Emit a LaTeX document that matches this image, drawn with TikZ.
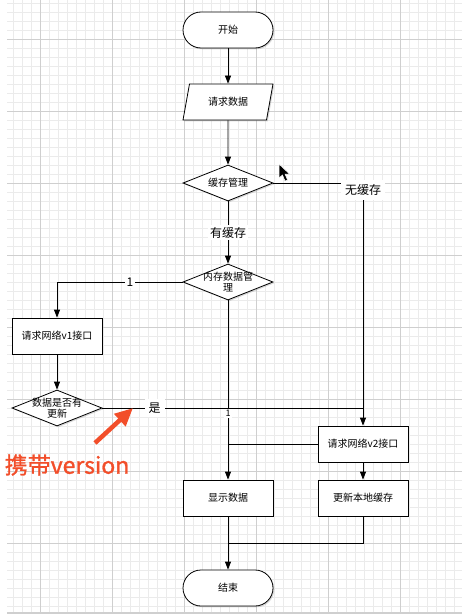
\documentclass[tikz,border=0pt]{standalone}
\usepackage{fontspec}
\setmainfont{Noto Sans CJK SC}
\newfontfamily\annotfont[FakeBold=1.2]{Noto Sans CJK SC}
\usetikzlibrary{shapes.geometric,arrows.meta,shadows,calc}
\definecolor{gridminor}{HTML}{EBEBEB}
\definecolor{gridmajor}{HTML}{CFCFCF}
\definecolor{annot}{HTML}{F24E2A}
\begin{document}
\begin{tikzpicture}[x=1pt,y=-1pt,
  minorline/.style={draw=gridminor, line width=0.6pt},
  majorline/.style={draw=gridmajor, line width=0.8pt},
  base/.style={draw=black, line width=0.8pt, fill=white,
    font=\fontsize{10}{11.5}\selectfont,
    drop shadow={shadow xshift=1.3pt, shadow yshift=-1.3pt, opacity=0.3}},
  terminal/.style={base, rectangle, rounded corners=18pt, minimum width=90pt, minimum height=36pt, inner sep=0pt},
  iobox/.style={base, trapezium, trapezium left angle=70, trapezium right angle=110,
    trapezium stretches=true, minimum width=90pt, minimum height=36pt, inner sep=0pt},
  process/.style={base, rectangle, minimum width=90pt, minimum height=36pt, inner sep=0pt},
  decision/.style={base, diamond, minimum width=90pt, minimum height=36pt,
    inner xsep=-14pt, inner ysep=-4pt, align=center},
  conn/.style={draw=black, line width=0.8pt},
  arr/.style={conn, -{Triangle[width=6pt,length=8pt]}},
  lbl/.style={fill=white, inner sep=2pt, font=\fontsize{12}{12}\selectfont},
  smalllbl/.style={fill=white, inner sep=1.5pt, font=\fontsize{9}{9}\selectfont}
]
\useasboundingbox (0,0) rectangle (462,615);
% grid
\foreach \x in {13,22,...,461} \draw[minorline] (\x,0) -- (\x,613);
\foreach \y in {3,12,...,612} \draw[minorline] (7,\y) -- (462,\y);
\foreach \x in {40,112,...,400} \draw[majorline] (\x,0) -- (\x,613);
\foreach \y in {39,111,...,543} \draw[majorline] (7,\y) -- (462,\y);
\draw[draw=gridmajor, line width=1.6pt] (7,613) -- (462,613);

% nodes
\node[terminal] (start) at (228,30) {开始};
\node[iobox] (req) at (228,102) {请求数据};
\node[decision] (cache) at (228,183) {缓存管理};
\node[decision] (mem) at (228,282) {内存数据管\\理};
\node[process] (v1) at (57,336) {请求网络v1接口};
\node[decision] (upd) at (57,408) {数据是否有\\更新};
\node[process] (v2) at (363,444) {请求网络v2接口};
\node[process] (show) at (228,498) {显示数据};
\node[process] (local) at (363,498) {更新本地缓存};
\node[terminal] (stop) at (228,588) {结束};

% connectors
\draw[arr] (start) -- (req);
\draw[arr] (req) -- (cache);
\draw[arr] (cache) -- node[lbl] {有缓存} (mem);
\draw[arr] (cache.east) -| node[lbl, pos=0.5, yshift=-7pt, inner sep=4pt] {无缓存} (v2.north);
\draw[arr] (mem.west) -| node[lbl, pos=0.21] {1} (v1.north);
\draw[arr] (v1) -- (upd);
\coordinate (join) at (upd.east -| v2.north);
\draw[conn] (upd.east) -- node[lbl, pos=0.2, inner sep=4pt] {是} (join);
\draw[arr] (mem.south) -- node[smalllbl, pos=0.63] {1} (show.north);
\draw[conn] (v2.west) -- (v2.west -| show.north);
\draw[arr] (v2) -- (local);
\draw[arr] (show) -- (stop);
\draw[conn] (local.south) |- ($(show.south)!0.5!(stop.north)$);

% annotation
\node[font=\annotfont\fontsize{23}{23}\selectfont, text=annot, inner sep=0pt] (note) at (67,465) {携带version};
\coordinate (atail) at (95,443);
\coordinate (atip) at (133,408);
\draw[draw=annot, line width=4.5pt, -{Triangle[width=16pt,length=18pt]}] (atail) -- (atip);

% mouse cursor
\filldraw[fill=black, draw=white, line width=0.5pt]
  (279,164) -- (279,178) -- (282.5,175) -- (285,181) -- (287.5,180) -- (285,174) -- (289.5,174) -- cycle;
\end{tikzpicture}
\end{document}
